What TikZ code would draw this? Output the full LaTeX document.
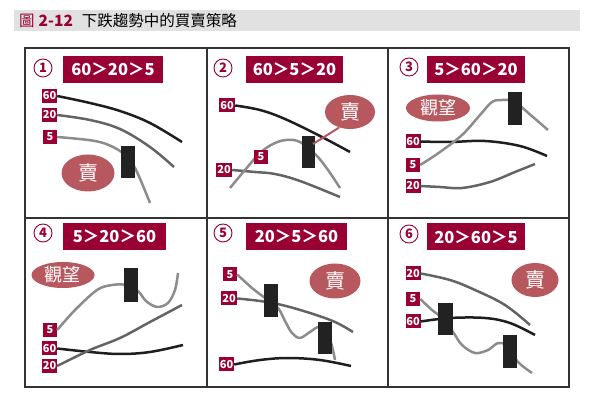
\documentclass[tikz,border=0pt]{standalone}
\usepackage{fontspec}
\setmainfont{Noto Sans CJK TC}
\usetikzlibrary{shapes.geometric}
\definecolor{crim}{HTML}{990033}
\definecolor{sellc}{HTML}{B7585F}
\definecolor{barc}{HTML}{E1E1E1}
\definecolor{gridc}{HTML}{333333}
\definecolor{cndl}{HTML}{222222}
\definecolor{cA}{HTML}{1E1E1E}
\definecolor{cB}{HTML}{646464}
\definecolor{cC}{HTML}{8C8C8C}
\begin{document}
\begin{tikzpicture}[x=1pt,y=-1pt,
 lbl/.style={fill=crim,text=white,font=\bfseries\fontsize{16.5}{16.5}\selectfont,minimum height=27pt,inner sep=0pt},
 tag/.style={fill=crim,text=white,font=\bfseries\fontsize{11}{11}\selectfont,minimum height=14pt,minimum width=15pt,inner sep=0.5pt},
 num/.style={circle,draw=crim,line width=0.9pt,text=crim,minimum size=18pt,inner sep=0pt,font=\bfseries\fontsize{13}{13}\selectfont},
 sell/.style={ellipse,fill=sellc,text=white,inner sep=0pt,font=\fontsize{20}{20}\selectfont},
 waitc/.style={ellipse,fill=sellc,text=white,inner sep=0pt,font=\fontsize{18}{18}\selectfont},
 candle/.style={fill=cndl},
 ma/.style={line width=2.5pt,line join=round},
 ma60/.style={ma,draw=cA},
 ma20/.style={ma,draw=cB},
 ma5/.style={ma,draw=cC},
 gridline/.style={draw=gridc,line width=1.6pt}
]
\useasboundingbox (0,0) rectangle (592,403);
% title
\fill[barc] (14,10) rectangle (580,31);
\node[anchor=west,inner sep=0pt,font=\fontsize{15.5}{15.5}\selectfont] (title) at (19,20.5)
 {\textcolor{crim}{圖}\hspace{4pt}\textcolor{crim}{\bfseries 2-12}\hspace{9pt}下跌趨勢中的買賣策略};
% grid
\draw[gridline] (25,48) rectangle (569,387);
\draw[gridline] (207,48) -- (207,387);
\draw[gridline] (388,48) -- (388,387);
\draw[gridline] (25,218) -- (569,218);

%% Panel 1
\node[num] (n1) at (43,68) {1};
\node[lbl,minimum width=100pt] (l1) at (113,69.5) {60＞20＞5};
\node[tag] (t160) at (49.5,96) {60};
\node[tag] (t120) at (49.5,115) {20};
\node[tag,minimum width=14pt] (t15) at (50,137) {5};
\draw[ma60] plot[smooth,tension=0.6] coordinates {(t160.east) (90,103) (120,111) (150,123) (182,142)};
\draw[ma20] plot[smooth,tension=0.6] coordinates {(t120.east) (90,120) (120,129) (150,147) (174,167)};
\draw[ma5] plot[smooth,tension=0.6] coordinates {(t15.east) (95,141) (115,148) (128,158) (137,172) (150,203)};
\fill[candle] (121,146) rectangle (135,178);
\node[sell,minimum width=53pt,minimum height=37pt] (s1) at (88,173) {賣};

%% Panel 2
\node[num] (n2) at (223,68) {2};
\node[lbl,minimum width=97pt] (l2) at (294.5,69.5) {60＞5＞20};
\node[tag,minimum width=16pt] (t260) at (227,105.5) {60};
\node[tag,minimum width=16pt] (t220) at (224,170) {20};
\draw[ma60] plot[smooth,tension=0.6] coordinates {(t260.east) (260,110) (285,119) (320,136) (350,152)};
\draw[ma20] plot[smooth,tension=0.6] coordinates {(t220.east) (255,172) (275,174) (300,181) (340,197)};
\draw[ma5] plot[smooth,tension=0.6] coordinates {(230,188) (245,170) (260,153) (273,144) (286,140) (300,142) (316,155) (328,170) (340,188)};
\node[tag,minimum width=14pt] (t25) at (261,157) {5};
\fill[candle] (302,136) rectangle (315,168);
\node[sell,minimum width=50pt,minimum height=34pt] (s2) at (350,112) {賣};
\coordinate (p2) at (313,144);
\draw[sellc,line width=2pt] (s2.235) -- (p2);

%% Panel 3
\node[num] (n3) at (409,67) {3};
\node[lbl,minimum width=98pt] (l3) at (476,69.5) {5＞60＞20};
\node[waitc,minimum width=64pt,minimum height=27pt] (w3) at (438,108) {觀望};
\node[tag] (t360) at (413,141.5) {60};
\node[tag,minimum width=14pt] (t35) at (413,165) {5};
\node[tag] (t320) at (413,186) {20};
\draw[ma60] plot[smooth,tension=0.6] coordinates {(t360.east) (450,142) (485,141) (520,146) (547,156)};
\draw[ma5] plot[smooth,tension=0.6] coordinates {(t35.east) (440,152) (462,135) (480,115) (492,102) (502,100) (514,101) (526,111) (548,130)};
\draw[ma20] plot[smooth,tension=0.6] coordinates {(t320.east) (440,187) (462,188) (490,182) (515,172) (535,164)};
\fill[candle] (508,92) rectangle (522,125);

%% Panel 4
\node[num] (n4) at (43,233) {4};
\node[lbl,minimum width=103pt] (l4) at (114.5,236.5) {5＞20＞60};
\node[waitc,minimum width=63pt,minimum height=26pt] (w4) at (63,275) {觀望};
\node[tag,minimum width=14pt] (t45) at (50,330) {5};
\node[tag] (t460) at (49.5,348.5) {60};
\node[tag] (t420) at (49.5,366) {20};
\draw[ma5] plot[smooth,tension=0.55] coordinates {(t45.east) (75,310) (97,290) (112,285) (126,285) (138,291) (146,301) (157,307) (168,303) (175,290) (178,273)};
\draw[ma60] plot[smooth,tension=0.6] coordinates {(t460.east) (90,352) (120,354) (150,352) (183,345)};
\draw[ma20] plot[smooth,tension=0.6] coordinates {(t420.east) (90,350) (120,338) (150,322) (182,305)};
\fill[candle] (124,268) rectangle (138,302);

%% Panel 5
\node[num] (n5) at (223,233) {5};
\node[lbl,minimum width=101pt] (l5) at (296.5,236.5) {20＞5＞60};
\node[tag,minimum width=14pt] (t55) at (230,274.5) {5};
\node[tag,minimum width=16pt] (t520) at (229,298.5) {20};
\node[tag] (t560) at (226.5,364.5) {60};
\draw[ma20] plot[smooth,tension=0.6] coordinates {(t520.east) (260,301) (282,305) (310,313) (335,322) (353,332)};
\draw[ma5] plot[smooth,tension=0.55] coordinates {(t55.east) (252,288) (265,298) (278,308) (285,321) (292,333) (300,338) (310,332) (320,327) (330,340) (335,360)};
\draw[ma60] plot[smooth,tension=0.6] coordinates {(t560.east) (260,360) (288,358) (320,360) (351,366)};
\fill[candle] (264,284) rectangle (278,317);
\fill[candle] (318,322) rectangle (332,354);
\node[sell,minimum width=51pt,minimum height=35pt] (s5) at (335,281) {賣};

%% Panel 6
\node[num] (n6) at (409,234) {6};
\node[lbl,minimum width=98pt] (l6) at (476,237) {20＞60＞5};
\node[tag] (t620) at (413,273.5) {20};
\node[tag,minimum width=14pt] (t65) at (413,299) {5};
\node[tag] (t660) at (413,321.5) {60};
\draw[ma20] plot[smooth,tension=0.6] coordinates {(t620.east) (450,280) (475,290) (505,305) (530,325)};
\draw[ma60] plot[smooth,tension=0.6] coordinates {(t660.east) (450,318) (485,318) (510,323) (535,335)};
\draw[ma5] plot[smooth,tension=0.55] coordinates {(t65.east) (432,310) (442,318) (453,332) (462,345) (475,353) (488,350) (498,343) (507,346) (518,362) (532,373)};
\fill[candle] (438,303) rectangle (453,335);
\fill[candle] (503,335) rectangle (517,368);
\node[sell,minimum width=47pt,minimum height=34pt] (s6) at (535,280) {賣};
\end{tikzpicture}
\end{document}
